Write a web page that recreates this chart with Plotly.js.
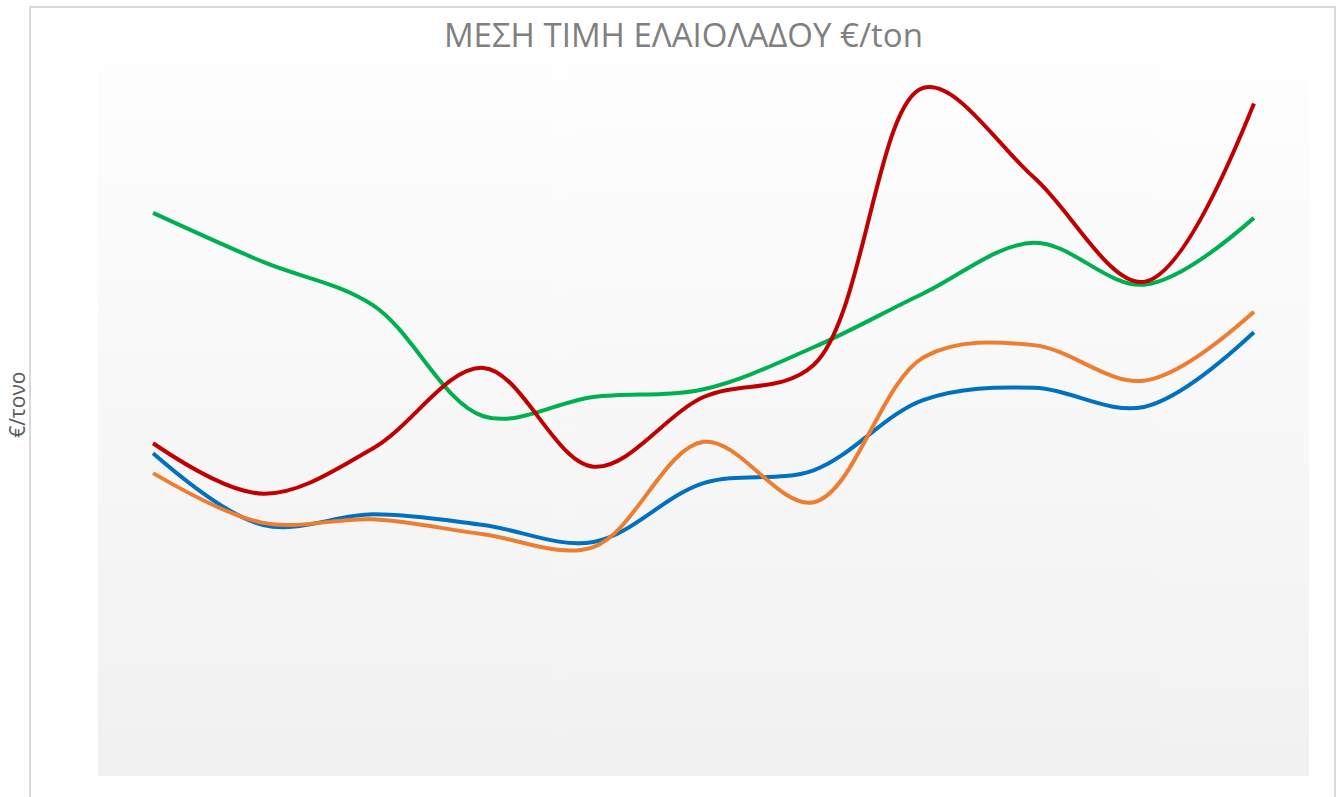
<!DOCTYPE html>
<html>
<head>
<meta charset="utf-8">
<script src="https://cdn.plot.ly/plotly-3.0.1.min.js"></script>
<style>
  html, body { margin: 0; padding: 0; background: #ffffff; }
  #wrap { position: relative; width: 1340px; height: 797px; overflow: hidden; }
  #chart { position: absolute; left: 0; top: 0; width: 1340px; height: 797px; }
  #frame { position: absolute; left: 29px; top: 6px; width: 1307px; height: 820px;
           border: 2px solid #d9d9d9; pointer-events: none; box-sizing: border-box; }
</style>
</head>
<body>
<div id="wrap">
  <div id="chart"></div>
  <div id="frame"></div>
</div>
<script>
// Categories (x labels are not shown in the reference)
const categories = ["2008", "2009", "2010", "2011", "2012", "2013", "2014", "2015", "2016", "2017", "2018"];

// Series values (€/ton)
const seriesRed    = [2340, 1985, 2305, 2870, 2175, 2665, 2890, 4840, 4210, 3475, 4730];
const seriesGreen  = [3960, 3615, 3310, 2530, 2665, 2720, 3015, 3395, 3750, 3455, 3925];
const seriesOrange = [2130, 1780, 1805, 1700, 1610, 2350, 1925, 2945, 3030, 2780, 3265];
const seriesBlue   = [2270, 1765, 1840, 1765, 1645, 2060, 2150, 2645, 2730, 2595, 3120];

const seriesNames = ["Σειρά 1", "Σειρά 2", "Σειρά 3", "Σειρά 4"];

// Vertical gradient for the plot background
function gradientURI() {
  const c = document.createElement("canvas");
  c.width = 4; c.height = 400;
  const ctx = c.getContext("2d");
  const g = ctx.createLinearGradient(0, 0, 0, 400);
  g.addColorStop(0, "#fefefe");
  g.addColorStop(1, "#f1f1f1");
  ctx.fillStyle = g;
  ctx.fillRect(0, 0, 4, 400);
  return c.toDataURL("image/png");
}

function line(name, y, color) {
  return {
    type: "scatter", mode: "lines", name: name,
    x: categories, y: y,
    line: { color: color, width: 4, shape: "spline", smoothing: 1 },
    hoverinfo: "x+y+name"
  };
}

const data = [
  line(seriesNames[0], seriesBlue, "#0070C0"),
  line(seriesNames[1], seriesOrange, "#ED7D31"),
  line(seriesNames[2], seriesGreen, "#00B050"),
  line(seriesNames[3], seriesRed, "#C00000")
];

const layout = {
  width: 1340, height: 797,
  margin: { l: 98, r: 31, t: 65, b: 21 },
  paper_bgcolor: "rgba(0,0,0,0)",
  plot_bgcolor: "rgba(0,0,0,0)",
  showlegend: false,
  title: {
    text: "ΜΕΣΗ ΤΙΜΗ ΕΛΑΙΟΛΑΔΟΥ €/ton",
    font: { family: "Open Sans", size: 33, color: "#808080" },
    x: 0.51, xanchor: "center",
    y: 0.956, yanchor: "middle", yref: "container"
  },
  xaxis: {
    type: "category",
    range: [-0.5, 10.5],
    showticklabels: false, ticks: "", showgrid: false, zeroline: false, showline: false
  },
  yaxis: {
    range: [0, 5000],
    showticklabels: false, ticks: "", showgrid: false, zeroline: false, showline: false
  },
  annotations: [{
    text: "€/τονο",
    xref: "paper", yref: "paper",
    x: -0.0669, y: 0.522,
    xanchor: "center", yanchor: "middle",
    textangle: -90, showarrow: false,
    font: { family: "Open Sans", size: 21, color: "#595959" }
  }],
  images: [{
    source: gradientURI(),
    xref: "paper", yref: "paper",
    x: 0, y: 1, sizex: 1, sizey: 1,
    xanchor: "left", yanchor: "top",
    sizing: "stretch", layer: "below"
  }]
};

Plotly.newPlot("chart", data, layout, { displayModeBar: false, staticPlot: true });
</script>
</body>
</html>
